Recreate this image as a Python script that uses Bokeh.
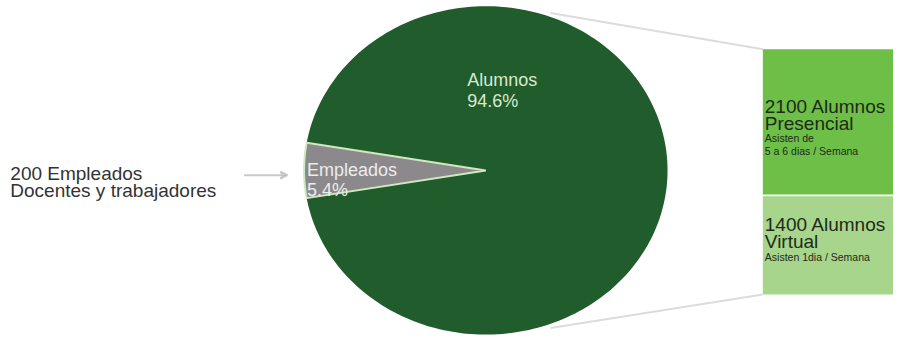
import numpy as np
from bokeh.plotting import figure
from bokeh.models import Range1d, Arrow, VeeHead
from bokeh.core.properties import value
from bokeh.embed import file_html
from bokeh.resources import INLINE

# ---- data ----
categories = ["Alumnos", "Empleados"]
shares = [94.6, 5.4]
share_labels = ["94.6%", "5.4%"]
employee_lines = ["200 Empleados", "Docentes y trabajadores"]
student_counts = [2100, 1400]
student_modes = ["Presencial", "Virtual"]
student_notes = [["Asisten de", "5 a 6 dias / Semana"], ["Asisten 1dia / Semana"]]

# data space = reference pixel space (909 x 352), drawn into a 893 x 336 plot
RW, RH = 909, 352
FONT = value("Liberation Sans")
p = figure(width=893, height=336, output_backend="svg", toolbar_location=None,
           x_range=Range1d(0, RW), y_range=Range1d(RH, 0),
           min_border=0, background_fill_color="white", border_fill_color="white")
p.axis.visible = False
p.grid.visible = False
p.outline_line_color = None

# ---- layout ----
cx, cy, rx, ry = 494, 178, 185, 172
box_x0, box_x1 = 776, 915
box_top, box_bottom = 51, 308

# connector lines (behind pie)
p.segment(x0=[560, 560], y0=[13, 343], x1=[box_x0, box_x0], y1=[box_top, box_bottom],
          line_color="#dcdcdc", line_width=2)

# ---- pie as elliptical patches ----
sh = np.array(shares, dtype=float)
frac = sh / sh.sum()
emp_span = frac[1] * 2 * np.pi
starts = [np.pi + emp_span / 2, np.pi - emp_span / 2]
spans = [frac[0] * 2 * np.pi, emp_span]
colors = ["#215c2d", "#8b898b"]
xs, ys = [], []
for s, sp in zip(starts, spans):
    t = np.linspace(s, s + sp, 240)
    xs.append(np.concatenate([[cx], cx + rx * np.cos(t), [cx]]))
    ys.append(np.concatenate([[cy], cy - ry * np.sin(t), [cy]]))
p.patches(xs, ys, fill_color=colors, line_color=None)
p.patch(xs[1], ys[1], fill_color=None, line_color="#cfe8c0", line_width=2)

# pie labels
p.text(x=[475, 475], y=[83, 105], text=[categories[0], share_labels[0]],
       text_font=FONT, text_font_size="18px", text_color="#d6ebcf",
       text_baseline="alphabetic")
p.text(x=[312, 312], y=[178, 198], text=[categories[1], share_labels[1]],
       text_font=FONT, text_font_size="18px", text_color="#ececec",
       text_baseline="alphabetic")

# employees text + arrow
p.text(x=[10, 10], y=[181, 199], text=employee_lines, text_font=FONT,
       text_font_size="19px", text_color="#333333", text_baseline="alphabetic")
p.add_layout(Arrow(end=VeeHead(size=7, line_color="#c8c8c8", line_width=2),
                   x_start=248, y_start=183, x_end=292, y_end=183,
                   line_color="#c8c8c8", line_width=2))

# ---- student boxes ----
cnt = np.array(student_counts, dtype=float)
heights = cnt / cnt.sum() * (box_bottom - box_top)
tops = box_top + np.concatenate([[0], np.cumsum(heights)[:-1]])
bots = tops + heights
p.quad(left=box_x0, right=box_x1, top=tops, bottom=bots - np.array([2, 0]),
       fill_color=["#6dbf47", "#a6d58b"], line_color=None)

big_off = [[60, 78], [29, 47]]
small_off = [[93, 107], [63]]
bx, by, bt = [], [], []
sx, sy, st = [], [], []
for i in range(len(student_counts)):
    bx += [box_x0 + 2, box_x0 + 2]
    by += [tops[i] + big_off[i][0], tops[i] + big_off[i][1]]
    bt += [f"{student_counts[i]} Alumnos", student_modes[i]]
    for j, note in enumerate(student_notes[i]):
        sx.append(box_x0 + 2)
        sy.append(tops[i] + small_off[i][j])
        st.append(note)
p.text(x=bx, y=by, text=bt, text_font=FONT, text_font_size="19px",
       text_color="#1e2a1a", text_baseline="alphabetic")
p.text(x=sx, y=sy, text=st, text_font=FONT, text_font_size="10.5px",
       text_color="#1e2a1a", text_baseline="alphabetic")

open("out.html", "w").write(file_html(p, INLINE))
